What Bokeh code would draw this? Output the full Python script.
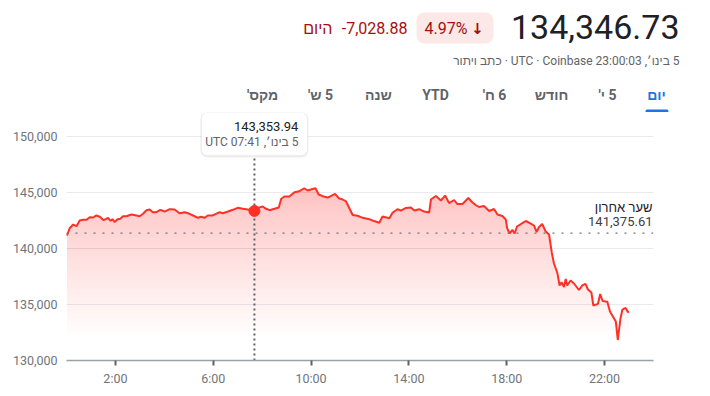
import numpy as np
from bokeh.plotting import figure
from bokeh.layouts import column
from bokeh.models import Range1d, FixedTicker, NumeralTickFormatter, Span, BoxAnnotation, Plot
from bokeh.core.properties import value
from bokeh.embed import file_html
from bokeh.resources import INLINE

# ---------------- data ----------------
hours = [0.00, 0.02, 0.13, 0.27, 0.41, 0.54, 0.68, 0.82, 0.95, 1.09,
         1.22, 1.36, 1.52, 1.70, 1.80, 1.88, 1.97, 2.07, 2.20, 2.31,
         2.45, 2.65, 2.86, 2.99, 3.13, 3.27, 3.40, 3.53, 3.67, 3.84,
         4.01, 4.22, 4.42, 4.62, 4.83, 5.03, 5.24, 5.37, 5.51, 5.64,
         5.78, 5.98, 6.26, 6.39, 6.60, 6.80, 7.00, 7.21, 7.41, 7.683,
         7.82, 8.02, 8.16, 8.30, 8.50, 8.68, 8.78, 8.91, 9.11, 9.32,
         9.52, 9.72, 9.86, 9.99, 10.18, 10.31, 10.47, 10.68, 10.98, 11.13,
         11.29, 11.43, 11.56, 11.70, 11.90, 12.11, 12.38, 12.51, 12.79, 12.92,
         13.20, 13.33, 13.53, 13.67, 13.88, 14.08, 14.22, 14.42, 14.62, 14.83,
         14.90, 15.10, 15.31, 15.48, 15.64, 15.85, 15.98, 16.19, 16.43, 16.60,
         16.73, 16.87, 17.07, 17.28, 17.48, 17.62, 17.82, 17.96, 18.02, 18.12,
         18.23, 18.32, 18.42, 18.64, 18.78, 18.98, 19.11, 19.22, 19.32, 19.45,
         19.59, 19.73, 19.84, 19.93, 20.07, 20.16, 20.24, 20.34, 20.41, 20.47,
         20.61, 20.75, 20.95, 21.09, 21.22, 21.32, 21.46, 21.54, 21.73, 21.82,
         21.92, 22.11, 22.22, 22.34, 22.46, 22.54, 22.65, 22.73, 22.86, 22.95,
         23.00]
prices = [141380, 141160, 141810, 142140, 141990, 142500, 142560, 142560, 142795, 142770,
          142950, 142830, 142530, 142740, 142470, 142620, 142350, 142590, 142650, 142880,
          142880, 143040, 142950, 142880, 143100, 143420, 143480, 143240, 143240, 143455,
          143300, 143510, 143480, 143150, 143240, 143100, 142880, 142740, 142830, 142740,
          142950, 142950, 143240, 143150, 143300, 143455, 143630, 143545, 143480, 143353.94,
          143630, 143750, 143545, 143420, 143545, 143660, 144440, 144640, 144640, 145030,
          145120, 145380, 145180, 145270, 145380, 144820, 144670, 144550, 144880, 144490,
          144375, 144200, 143620, 142990, 142920, 142740, 142620, 142500, 142295, 142860,
          142705, 143190, 143510, 143390, 143620, 143660, 143390, 143510, 143300, 143215,
          144375, 144690, 144285, 144730, 144060, 144330, 143970, 143970, 144510, 144110,
          143885, 143705, 143795, 143350, 143525, 143040, 142900, 142590, 141785, 141340,
          141670, 141340, 141965, 142260, 142455, 142230, 142055, 141475, 141920, 142190,
          141520, 141250, 139645, 138660, 137810, 136700, 136990, 136560, 137280, 136700,
          137140, 136875, 136295, 136700, 136850, 136340, 136070, 134910, 135060, 135940,
          135310, 135250, 134375, 133930, 133480, 131830, 133750, 134550, 134690, 134330,
          134346.73]

last_price = 134346.73
change_abs = -7028.88
change_pct = 4.97
prev_close = 141375.61
hover_time = 7 + 41 / 60
hover_price = 143353.94
hover_clock = "07:41"
quote_clock = "23:00:03"
date_label = "5 בינו׳"
today_label = "היום"
prev_close_label = "שער אחרון"
disclaimer = "כתב ויתור"
x_ticks = [2, 6, 10, 14, 18, 22]
x_tick_labels = ["2:00", "6:00", "10:00", "14:00", "18:00", "22:00"]
y_ticks = [130000, 135000, 140000, 145000, 150000]
tab_labels = ["יום", "5 י'", "חודש", "6 ח'", "YTD", "שנה", "5 ש'", "מקס'"]

# ---------------- style ----------------
RED = "#ff3127"
DARK = "#202124"
GRAY = "#70757a"
GRAY2 = "#5f6368"
FONT = "Roboto, Arial"
RLE, LRE, PDF = "\u202B", "\u202A", "\u202C"


def rtl(s):
    return RLE + s + PDF


def ltr(s):
    return LRE + s + PDF


FA = {"frame_align": False} if "frame_align" in Plot.properties() else {}

W = 710
HDR_H = 112
CH_H = 284
ML, MR, MT, MB = 66, 57, 0, 36
frame_w = W - ML - MR
frame_h = CH_H - MT - MB
Y0 = y_ticks[0]
px_per_unit_y = 56 / 5000
Y1 = Y0 + frame_h / px_per_unit_y
X0, X1 = 0, 24
px_per_hour = frame_w / (X1 - X0)

# ---------------- header (pixel coordinates) ----------------
hdr = figure(width=W, height=HDR_H, x_range=Range1d(0, W), y_range=Range1d(HDR_H, 0),
             toolbar_location=None, output_backend="svg", min_border=0,
             x_axis_location=None, y_axis_location=None, **FA)
hdr.grid.visible = False
hdr.outline_line_color = None
hdr.background_fill_color = "white"
hdr.border_fill_color = "white"

hdr.add_layout(BoxAnnotation(left=416, right=493, top=12, bottom=43, fill_color="#fce8e6",
                             fill_alpha=1, line_color=None, border_radius=8, level="underlay"))
hdr.text(x=[679], y=[26.5], text=[ltr(f"{last_price:,.2f}")], text_font=value(FONT),
         text_font_size="34px", text_color=DARK, text_align="right", text_baseline="middle")
hdr.text(x=[424], y=[28.3], text=[ltr(f"{change_pct:.2f}%")], text_font=value(FONT),
         text_font_size="16px", text_color="#a50e0e", text_align="left", text_baseline="middle")
hdr.text(x=[477], y=[28.3], text=["↓"], text_font=value("DejaVu Sans"), text_font_style="bold",
         text_font_size="15px", text_color="#a50e0e", text_align="center", text_baseline="middle")
hdr.text(x=[407], y=[28.3], text=[ltr(f"{change_abs:,.2f}")], text_font=value(FONT),
         text_font_size="16px", text_color="#a50e0e", text_align="right", text_baseline="middle")
hdr.text(x=[332], y=[28.3], text=[rtl(today_label)], text_font=value(FONT),
         text_font_size="16px", text_color="#a50e0e", text_align="right", text_baseline="middle")
hdr.text(x=[679], y=[60.3], text=[rtl(f"{date_label}, {quote_clock} UTC · Coinbase · {disclaimer}")],
         text_font=value(FONT), text_font_size="12px", text_color=GRAY2,
         text_align="right", text_baseline="middle")

tab_x = [656, 607, 551, 494, 435, 378, 320, 262]
tab_colors = ["#1a73e8"] + [GRAY2] * (len(tab_labels) - 1)
hdr.text(x=tab_x, y=[94.2] * len(tab_x), text=[rtl(t) for t in tab_labels], text_font=value(FONT),
         text_font_size="14px", text_font_style="bold", text_color=tab_colors,
         text_align="center", text_baseline="middle")
hdr.add_layout(BoxAnnotation(left=645, right=668, top=109, bottom=112, fill_color="#1a73e8",
                             fill_alpha=1, line_color=None, border_radius=2, level="underlay"))

# ---------------- chart ----------------
ch = figure(width=W, height=CH_H, x_range=Range1d(X0, X1), y_range=Range1d(Y0, Y1),
            toolbar_location=None, output_backend="svg",
            min_border_left=ML, min_border_right=MR, min_border_top=MT, min_border_bottom=MB, **FA)
ch.outline_line_color = None
ch.background_fill_color = "white"
ch.border_fill_color = "white"
ch.xgrid.visible = False
ch.ygrid.ticker = FixedTicker(ticks=y_ticks)
ch.ygrid.grid_line_color = "#e8eaed"

ch.yaxis.ticker = FixedTicker(ticks=y_ticks)
ch.yaxis.formatter = NumeralTickFormatter(format="0,0")
ch.yaxis.axis_line_color = None
ch.yaxis.major_tick_line_color = None
ch.yaxis.minor_tick_line_color = None
ch.yaxis.major_tick_out = 0
ch.yaxis.major_tick_in = 0
ch.yaxis.major_label_standoff = 9
ch.yaxis.major_label_text_font = FONT
ch.yaxis.major_label_text_font_size = "12.5px"
ch.yaxis.major_label_text_color = GRAY

ch.xaxis.ticker = FixedTicker(ticks=x_ticks)
ch.xaxis.major_label_overrides = dict(zip(x_ticks, x_tick_labels))
ch.xaxis.axis_line_color = "#9aa0a6"
ch.xaxis.axis_line_width = 1.5
ch.xaxis.major_tick_line_color = GRAY2
ch.xaxis.major_tick_line_width = 2
ch.xaxis.major_tick_out = 5
ch.xaxis.major_tick_in = 0
ch.xaxis.minor_tick_line_color = None
ch.xaxis.major_label_standoff = 5
ch.xaxis.major_label_text_font = FONT
ch.xaxis.major_label_text_font_size = "12.5px"
ch.xaxis.major_label_text_color = GRAY

# gradient fill under the line, built from stacked translucent layers
hx = np.array(hours, dtype=float)
hy = np.array(prices, dtype=float)
lo, hi = hy.min(), hy.max()
n_layers = 60
levels = np.linspace(lo, hi, n_layers + 1)[:-1]
top_alpha = 0.27
prev_T = 0.0
for lv in levels:
    T = top_alpha * (lv - lo) / (hi - lo)
    a = 1 - (1 - T) / (1 - prev_T)
    prev_T = T
    if a <= 0:
        continue
    ch.varea(x=hx, y1=lv, y2=np.maximum(hy, lv), fill_color=RED, fill_alpha=a)

ch.add_layout(Span(location=prev_close, dimension="width", line_color=GRAY,
                   line_width=1.3, line_dash="2 7"))

ch.line(hx, hy, line_color=RED, line_width=2)

# tooltip
tip_bottom = Y1 - 43 / px_per_unit_y
half_w = 53 / px_per_hour
ch.segment(x0=[hover_time], y0=[Y0], x1=[hover_time], y1=[tip_bottom],
           line_color=GRAY2, line_width=2, line_dash="2 3")
ch.add_layout(BoxAnnotation(left=hover_time - half_w - 1 / px_per_hour,
                            right=hover_time + half_w + 1 / px_per_hour,
                            top=Y1, bottom=tip_bottom - 2 / px_per_unit_y,
                            fill_color="#000000", fill_alpha=0.07, line_color=None,
                            border_radius=7, level="underlay"))
ch.add_layout(BoxAnnotation(left=hover_time - half_w, right=hover_time + half_w,
                            top=Y1, bottom=tip_bottom, fill_color="white", fill_alpha=1,
                            line_color="#dadce0", line_width=1, border_radius=6, level="underlay"))
ch.text(x=[hover_time], y=[Y1], x_offset=44, y_offset=125.5 - 112, text=[ltr(f"{hover_price:,.2f}")],
        text_font=value(FONT), text_font_size="13px", text_color=DARK,
        text_align="right", text_baseline="middle")
ch.text(x=[hover_time], y=[Y1], x_offset=44, y_offset=141.5 - 112,
        text=[rtl(f"{date_label}, {hover_clock} UTC")],
        text_font=value(FONT), text_font_size="12px", text_color=GRAY2,
        text_align="right", text_baseline="middle")
ch.scatter(x=[hover_time], y=[hover_price], size=11, fill_color=RED, line_color=RED)

# previous close label
ch.text(x=[X1], y=[prev_close], x_offset=-1, y_offset=-25.6, text=[rtl(prev_close_label)],
        text_font=value(FONT), text_font_size="13px", text_color=DARK,
        text_align="right", text_baseline="middle")
ch.text(x=[X1], y=[prev_close], x_offset=-1, y_offset=-11.9, text=[ltr(f"{prev_close:,.2f}")],
        text_font=value(FONT), text_font_size="13px", text_color="#3c4043",
        text_align="right", text_baseline="middle")

layout = column(hdr, ch)
open("out.html", "w").write(file_html(layout, INLINE))
